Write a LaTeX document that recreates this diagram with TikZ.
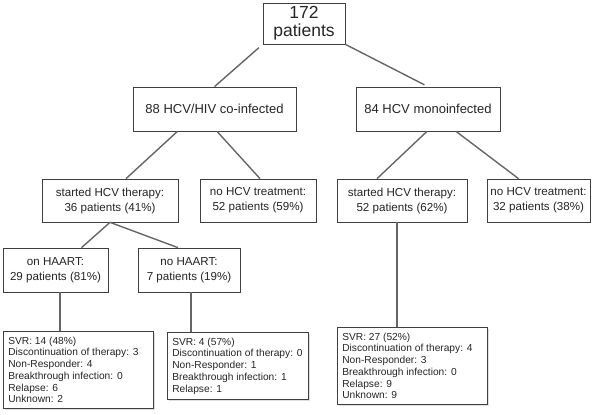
\documentclass[tikz,border=0pt]{standalone}
\usepackage{fontspec}
\setmainfont{Liberation Sans}
\usetikzlibrary{shadows}

\begin{document}
\begin{tikzpicture}[x=1pt, y=-1pt,
  box/.style={draw=black!75, line width=0.7pt, fill=white, align=center, text=black!85,
    drop shadow={shadow xshift=1.2pt, shadow yshift=-1.2pt, opacity=0.25}},
  listbox/.style={box, align=flush left, anchor=north west, inner xsep=5pt, inner ysep=5.5pt},
  link/.style={draw=black!60, line width=1.4pt}]
\useasboundingbox (0,0) rectangle (600,415);
\node (top) at (304,23.5) [box, minimum width=82pt, minimum height=41pt, font=\fontsize{17.5}{18}\selectfont] {172\\patients};
\node (coinf) at (214.5,109) [box, minimum width=163pt, minimum height=44pt, font=\fontsize{13}{15}\selectfont] {88 HCV/HIV co-infected};
\node (mono) at (428,109) [box, minimum width=144pt, minimum height=44pt, font=\fontsize{13}{15}\selectfont] {84 HCV monoinfected};
\node (startA) at (110,200.5) [box, minimum width=136pt, minimum height=43pt, font=\fontsize{11.6}{15}\selectfont] {started HCV therapy:\\36 patients (41\%)};
\node (notreatA) at (258,200.5) [box, minimum width=116pt, minimum height=43pt, font=\fontsize{11.6}{15}\selectfont] {no HCV treatment:\\52 patients (59\%)};
\node (startB) at (402,200.5) [box, minimum width=130pt, minimum height=43pt, font=\fontsize{11.6}{15}\selectfont] {started HCV therapy:\\52 patients (62\%)};
\node (notreatB) at (538.5,200.5) [box, minimum width=103pt, minimum height=43pt, font=\fontsize{11.6}{15}\selectfont] {no HCV treatment:\\32 patients (38\%)};
\node (onhaart) at (55.5,270) [box, minimum width=105pt, minimum height=44pt, font=\fontsize{11.6}{15}\selectfont] {on HAART:\\29 patients (81\%)};
\node (nohaart) at (189,270) [box, minimum width=102pt, minimum height=44pt, font=\fontsize{11.6}{15}\selectfont] {no HAART:\\7 patients (19\%)};
\node (resA) at (3,331) [listbox, text width=140pt, font=\fontsize{10.2}{11.7}\selectfont] {SVR: 14 (48\%)\\Discontinuation of therapy: 3\\Non-Responder: 4\\Breakthrough infection: 0\\Relapse: 6\\Unknown: 2};
\node (resB) at (167,332) [listbox, text width=131pt, font=\fontsize{10.2}{11.7}\selectfont] {SVR: 4 (57\%)\\Discontinuation of therapy: 0\\Non-Responder: 1\\Breakthrough infection: 1\\Relapse: 1};
\node (resC) at (337,327) [listbox, text width=140pt, font=\fontsize{10.2}{11.7}\selectfont] {SVR: 27 (52\%)\\Discontinuation of therapy: 4\\Non-Responder: 3\\Breakthrough infection: 0\\Relapse: 9\\Unknown: 9};
% connectors
\draw[link, shorten <=5pt] (top.south west) -- (coinf.north);
\draw[link, shorten >=4pt] (top.south east) -- (mono.north);
\draw[link] ([xshift=-37pt]coinf.south) -- ([xshift=16pt]startA.north);
\draw[link] ([xshift=2.5pt]coinf.south) -- ([xshift=2pt]notreatA.north);
\draw[link] ([xshift=-1pt]mono.south) -- ([xshift=-25pt]startB.north);
\draw[link] ([xshift=28pt]mono.south) -- ([xshift=-20pt]notreatB.north);
\draw[link] (startA.south) -- ([xshift=26pt]onhaart.north);
\draw[link] (startA.south) -- ([xshift=-11pt]nohaart.north);
\draw[link] ([xshift=4.5pt]onhaart.south) -- ([xshift=4.5pt]onhaart.south |- resA.north);
\draw[link] ([xshift=2pt]nohaart.south) -- ([xshift=2pt]nohaart.south |- resB.north);
\draw[link] ([xshift=-5pt]startB.south) -- ([xshift=-5pt]startB.south |- resC.north);
\end{tikzpicture}
\end{document}
